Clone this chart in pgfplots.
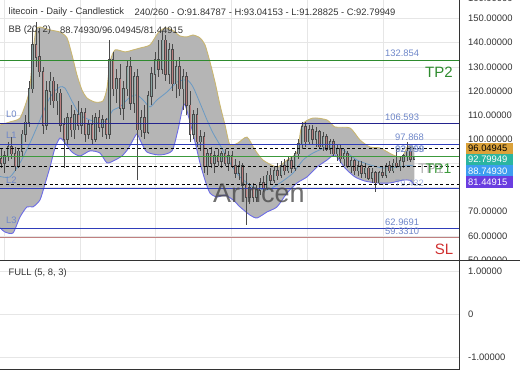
\documentclass[border=0pt]{standalone}
\usepackage{fontspec}
\setmainfont{Liberation Sans}
\usepackage{pgfplots}
\pgfplotsset{compat=1.18}
\usepackage{pgfplotstable}
\definecolor{txt}{HTML}{333333}
\definecolor{lvl}{HTML}{6F87C9}
\definecolor{tpg}{HTML}{2E8B2E}
\definecolor{tpgl}{HTML}{3C9A3C}
\definecolor{navy}{HTML}{23238E}
\definecolor{lblue}{HTML}{2F3DBA}
\definecolor{slc}{HTML}{C08080}
\definecolor{slt}{HTML}{D03030}
\definecolor{bbfill}{HTML}{B5B5B5}
\definecolor{bbup}{HTML}{C9B671}
\definecolor{bblo}{HTML}{6C6CE6}
\definecolor{bbmid}{HTML}{6A9AC4}
\definecolor{wick}{HTML}{4A4A4A}
\definecolor{bull}{HTML}{8AA6A3}
\definecolor{bear}{HTML}{BA7E7E}
\definecolor{gridc}{HTML}{E6E6E6}
\definecolor{boxa}{HTML}{DBA23A}
\definecolor{boxb}{HTML}{2BB5A0}
\definecolor{boxc}{HTML}{3D9DF0}
\definecolor{boxd}{HTML}{6A3DE0}

\pgfplotstableread{
i o h l c
0 92 96 88 90
1 90 95 86 93
2 93 99 91 97
3 97 101 92 94
4 94 97 87 89
5 89 96 88 95
6 95 104 93 102
7 102 110 99 107
8 107 124 105 121
9 121 146 119 139
10 139 148.5 130 134
11 134 146 126 128
12 128 130 102 106
13 106 124 104 120
14 120 128 114 124
15 124 126 113 116
16 116 123 110 119
17 119 121 103 106
18 106 109 88 100
19 100 111 98 109
20 109 114 101 104
21 104 112 100 110
22 110 116 104 106
23 106 113 102 111
24 111 113 99 102
25 102 108 100 106
26 106 110 98 100
27 100 111 99 109
28 109 112 103 105
29 105 110 101 108
30 108 109 100 102
31 102 141 100 133
32 133 136 118 121
33 121 129 115 125
34 125 131 110 113
35 113 124 108 121
36 121 133 118 130
37 130 134 112 115
38 115 128 111 126
39 126 129 83 104
40 104 112 101 109
41 109 114 100 103
42 103 120 102 118
43 118 130 114 127
44 127 136 121 133
45 133 141 126 129
46 129 145 127 141
47 141 143 124 127
48 127 140 123 137
49 137 139.5 120 123
50 123 133 117 130
51 130 134 118 121
52 121 129 112 126
53 126 128 110 114
54 114 120 99 102
55 102 112 100 110
56 110 113 97 99
57 99 104 95 101
58 101 103 86 89
59 89 96 85 94
60 94 97 88 90
61 90 95 86 93
62 93 96 89 91
63 91 95 88 94
64 94 96 89 90
65 90 95 87 93
66 93 95 88 89
67 89 92 84 86
68 86 91 83 89
69 89 90 79 81
70 81 86 64.5 76
71 76 82 73 80
72 80 82 74 76
73 76 81 74 79
74 79 84 77 82
75 82 85 78 80
76 80 87 79 85
77 85 88 81 83
78 83 89 82 87
79 87 90 83 85
80 85 91 84 89
81 89 92 85 87
82 87 93 86 91
83 91 93 86 88
84 88 95 87 94
85 94 100 92 98
86 98 107 96 105
87 105 107 97 99
88 99 106 98 104
89 104 106 98 100
90 100 105 97 103
91 103 104 96 97
92 97 103 95 101
93 101 102 95 96
94 96 100 94 99
95 99 100 93 94
96 94 98 91 96
97 96 98 90 92
98 92 96 89 94
99 94 95 88 89
100 89 93 86 91
101 91 92 85 87
102 87 91 85 89
103 89 91 84 86
104 86 90 84 88
105 88 89 83 84
106 84 88 82 86
107 86 87 78 82
108 82 87 81 86
109 86 89 84 85
110 85 90 84 89
111 89 91 86 87
112 87 92 86 90
113 90 96 88 89
114 89 93 87 91
115 91 94 88 93
116 93 99 91 95
117 95 97 90.5 91.85
118 91.85 93.04 91.29 92.80
}\candles

\pgfplotstableread{
x y
0 105.9
10 107.2
20 108.8
27 116.3
30 122.0
33 136.0
36 145.3
40 146.5
50 145.3
60 144.4
67 142.0
72 134.9
77 126.6
82 120.4
87 117.1
95 115.4
103 115.9
107 121.2
110 132.0
115 137.0
125 136.2
133 137.0
140 137.8
150 139.1
158 144.0
165 146.1
172 145.3
180 142.8
187 142.4
193 143.2
200 142.0
205 139.1
210 132.0
215 123.7
220 114.2
225 105.9
230 97.6
238 98.5
247 100.9
255 95.6
263 91.4
277 88.5
287 91.4
297 94.7
302 105.9
313 108.8
327 108.0
335 105.1
350 104.7
360 99.7
370 96.8
380 96.4
393 93.5
402 92.7
408 97.2
414 96.05
}\tabU

\pgfplotstableread{
x y
0 63.3
5 61.6
13 61.2
20 67.8
27 72.0
33 72.0
40 74.9
45 81.5
50 88.5
55 96.4
60 100.5
65 98.5
72 94.7
80 93.1
90 95.2
100 94.3
107 90.2
115 91.4
122 93.1
128 96.0
133 99.7
137 102.2
141 98.9
147 94.7
160 93.5
172 95.2
178 103.9
184 114.6
190 107.2
196 97.2
200 90.2
205 83.1
210 77.7
217 76.1
225 76.9
233 74.9
240 72.0
250 68.6
257 67.4
267 69.9
277 72.0
287 77.7
297 81.9
307 84.4
317 88.5
327 91.4
335 93.5
345 88.1
355 84.4
365 82.7
377 81.9
390 81.9
403 83.1
410 83.0
414 81.45
}\tabL

% band outline: upper band left to right, then lower band right to left
\pgfplotstableread{
x y
0 105.9
10 107.2
20 108.8
27 116.3
30 122.0
33 136.0
36 145.3
40 146.5
50 145.3
60 144.4
67 142.0
72 134.9
77 126.6
82 120.4
87 117.1
95 115.4
103 115.9
107 121.2
110 132.0
115 137.0
125 136.2
133 137.0
140 137.8
150 139.1
158 144.0
165 146.1
172 145.3
180 142.8
187 142.4
193 143.2
200 142.0
205 139.1
210 132.0
215 123.7
220 114.2
225 105.9
230 97.6
238 98.5
247 100.9
255 95.6
263 91.4
277 88.5
287 91.4
297 94.7
302 105.9
313 108.8
327 108.0
335 105.1
350 104.7
360 99.7
370 96.8
380 96.4
393 93.5
402 92.7
408 97.2
414 96.05
414 81.45
410 83.0
403 83.1
390 81.9
377 81.9
365 82.7
355 84.4
345 88.1
335 93.5
327 91.4
317 88.5
307 84.4
297 81.9
287 77.7
277 72.0
267 69.9
257 67.4
250 68.6
240 72.0
233 74.9
225 76.9
217 76.1
210 77.7
205 83.1
200 90.2
196 97.2
190 107.2
184 114.6
178 103.9
172 95.2
160 93.5
147 94.7
141 98.9
137 102.2
133 99.7
128 96.0
122 93.1
115 91.4
107 90.2
100 94.3
90 95.2
80 93.1
72 94.7
65 98.5
60 100.5
55 96.4
50 88.5
45 81.5
40 74.9
33 72.0
27 72.0
20 67.8
13 61.2
5 61.6
0 63.3
}\tabBand

\pgfplotstableread{
x y
0 84.6
10 84.4
20 90.2
30 98.5
40 108.0
47 115.0
53 119.2
60 121.7
65 121.2
73 115.0
80 110.1
90 108.0
100 106.7
107 108.0
113 112.1
120 113.4
130 117.5
137 118.3
143 116.3
150 113.4
157 116.3
167 119.6
177 123.7
187 124.6
193 121.7
200 115.0
207 108.0
213 102.6
220 97.6
230 90.2
240 84.4
253 80.2
267 79.0
280 81.9
293 86.0
303 91.4
313 94.3
327 96.8
335 96.4
343 95.6
357 91.4
370 89.4
383 88.1
397 88.5
410 89.2
414 88.75
}\tabM

\begin{document}
\begin{tikzpicture}[x=1pt,y=1pt,
  t/.style={inner sep=0pt, font=\fontsize{9.4}{11}\selectfont, text=txt},
  frame/.style={draw=txt, line width=0.8pt}]
\useasboundingbox (0,0) rectangle (520,390);

\begin{axis}[
  at={(0pt,130pt)}, anchor=south west, scale only axis,
  width=459.5pt, height=260pt,
  xmin=0, xmax=459.5, ymin=50, ymax=157.7,
  axis line style={draw=none},
  major tick length=0pt,
  xtick={4.3,80,155.7,231.4,307.1,382.8}, xticklabels={},
  ytick={50,60,...,150},
  yticklabels={50.00000,60.00000,70.00000,{},{},100.00000,110.00000,120.00000,130.00000,140.00000,150.00000},
  grid=major, major grid style={draw=gridc, line width=0.6pt},
  yticklabel pos=right,
  yticklabel style={anchor=west, inner sep=0pt, xshift=8.5pt, font=\fontsize{9.4}{11}\selectfont, text=txt},
]
\addplot[fill=bbfill, draw=none, smooth, tension=0.4] table[x=x,y=y] {\tabBand};
\addplot[draw=bbup, line width=0.9pt, smooth, tension=0.4] table[x=x,y=y] {\tabU};
\addplot[draw=bblo, line width=0.9pt, smooth, tension=0.4] table[x=x,y=y] {\tabL};
\addplot[draw=bbmid, line width=0.8pt, smooth, tension=0.4] table[x=x,y=y] {\tabM};
% wicks
\addplot[draw=none, mark=none, error bars/.cd, y dir=both, y explicit, error mark=none,
  error bar style={draw=wick, line width=0.6pt, line cap=butt}]
  table[x expr={1+3.5*\thisrow{i}}, y expr={(\thisrow{h}+\thisrow{l})/2}, y error expr={(\thisrow{h}-\thisrow{l})/2}] {\candles};
% body outline
\addplot[draw=none, mark=none, error bars/.cd, y dir=both, y explicit, error mark=none,
  error bar style={draw=wick, line width=2.1pt, line cap=butt}]
  table[x expr={1+3.5*\thisrow{i}}, y expr={(\thisrow{o}+\thisrow{c})/2}, y error expr={abs(\thisrow{c}-\thisrow{o})/2+0.3}] {\candles};
% bull bodies
\addplot[draw=none, mark=none, error bars/.cd, y dir=both, y explicit, error mark=none,
  error bar style={draw=bull, line width=1.0pt, line cap=butt}]
  table[x expr={1+3.5*\thisrow{i}}, y expr={(\thisrow{o}+\thisrow{c})/2}, y error expr={max(\thisrow{c}-\thisrow{o},0)/2}] {\candles};
% bear bodies
\addplot[draw=none, mark=none, error bars/.cd, y dir=both, y explicit, error mark=none,
  error bar style={draw=bear, line width=1.0pt, line cap=butt}]
  table[x expr={1+3.5*\thisrow{i}}, y expr={(\thisrow{o}+\thisrow{c})/2}, y error expr={max(\thisrow{o}-\thisrow{c},0)/2}] {\candles};
% level lines
\addplot[tpg, line width=0.9pt] coordinates {(0,132.854) (459.5,132.854)};
\addplot[navy, line width=0.9pt] coordinates {(0,106.593) (459.5,106.593)};
\addplot[lblue, line width=0.9pt] coordinates {(0,97.868) (459.5,97.868)};
\addplot[tpgl, line width=0.9pt] coordinates {(0,92.79949) (459.5,92.79949)};
\addplot[lblue, line width=0.9pt] coordinates {(0,79.432) (459.5,79.432)};
\addplot[lblue, line width=0.9pt] coordinates {(0,62.9691) (459.5,62.9691)};
\addplot[slc, line width=1.2pt] coordinates {(0,59.3310) (459.5,59.3310)};
\addplot[black, line width=0.8pt, dash pattern=on 3pt off 2.5pt] coordinates {(0,96.04945) (459.5,96.04945)};
\addplot[black, line width=0.8pt, dash pattern=on 3pt off 2.5pt] coordinates {(0,88.74930) (459.5,88.74930)};
\addplot[black, line width=0.8pt, dash pattern=on 3pt off 2.5pt] coordinates {(0,81.44915) (459.5,81.44915)};
\end{axis}

\fill[white] (0,0) rectangle (520,129.6);

\begin{axis}[
  at={(0pt,20.7pt)}, anchor=south west, scale only axis,
  width=459.5pt, height=109.3pt,
  xmin=0, xmax=459.5, ymin=-1.27, ymax=1.27,
  axis line style={draw=none},
  major tick length=0pt,
  xtick=\empty,
  ytick={-1,0,1}, yticklabels={-1.00000,0,1.00000},
  ymajorgrids, major grid style={draw=gridc, line width=0.6pt},
  yticklabel pos=right,
  yticklabel style={anchor=west, inner sep=0pt, xshift=8.5pt, font=\fontsize{9.4}{11}\selectfont, text=txt},
]
\addplot[draw=none, forget plot] coordinates {(0,0) (459.5,0)};
\end{axis}

\draw[frame] (0,130) -- (520,130);
\draw[frame] (459.5,390) -- (459.5,20.7);
\draw[frame] (0,20.7) -- (459.5,20.7);

% texts
\node[t, anchor=west] at (8.5,377.7) {litecoin - Daily - Candlestick};
\node[t, anchor=west] at (134.5,377.7) {240/260 - O:91.84787 - H:93.04153 - L:91.28825 - C:92.79949};
\node[t, anchor=west] at (8.5,360.3) {BB (20, 2)};
\node[t, anchor=west] at (60,360.3) {88.74930/96.04945/81.44915};
\node[t, anchor=west] at (8.5,116.7) {FULL (5, 8, 3)};
\node[t, anchor=west] at (468,392) {160.00000};

\node[t, anchor=west, text=lvl] at (6,276) {L0};
\node[t, anchor=west, text=lvl] at (6,255) {L1};
\node[t, anchor=west, text=lvl] at (6,210) {L2};
\node[t, anchor=west, text=lvl] at (6,170) {L3};

\node[t, anchor=west, text=lvl] at (385,336.3) {132.854};
\node[t, anchor=west, text=lvl] at (385,273) {106.593};
\node[t, anchor=west, text=lvl] at (395,252.3) {97.868};
\node[t, anchor=west, text=lvl] at (395,241) {92.799};
\node[t, anchor=west, text=lvl, opacity=0.7] at (395.6,241) {92.858};
\node[t, anchor=west, text=lvl, opacity=0.6] at (395,206.7) {79.432};
\node[t, anchor=west, text=lvl] at (385,168) {62.9691};
\node[t, anchor=west, text=lvl] at (385,159) {59.3310};

\node[inner sep=0pt, font=\fontsize{15}{17}\selectfont, text=tpg] at (439,317.3) {TP2};
\node[inner sep=0pt, font=\fontsize{14}{16}\selectfont, text=gray, opacity=0.6] at (431,221) {TP1};
\node[inner sep=0pt, font=\fontsize{14}{16}\selectfont, text=tpgl] at (438.5,221) {TP1};
\node[inner sep=0pt, font=\fontsize{15}{17}\selectfont, text=slt] at (444,140.5) {SL};
\node[inner sep=0pt, font=\fontsize{27}{30}\selectfont, text=black!72, opacity=0.78] at (259,197) {Arincen};

% value boxes
\fill[boxa] (466,236) rectangle (513,247);
\fill[boxb] (466,225) rectangle (513,236);
\fill[boxc] (466,213.5) rectangle (513,225);
\fill[boxd] (466,202) rectangle (513,213.5);
\node[t, anchor=west, text=black] at (468,241.5) {96.04945};
\node[t, anchor=west, text=white] at (468,230.5) {92.79949};
\node[t, anchor=west, text=white] at (468,219.2) {88.74930};
\node[t, anchor=west, text=white] at (468,207.8) {81.44915};
\end{tikzpicture}
\end{document}
